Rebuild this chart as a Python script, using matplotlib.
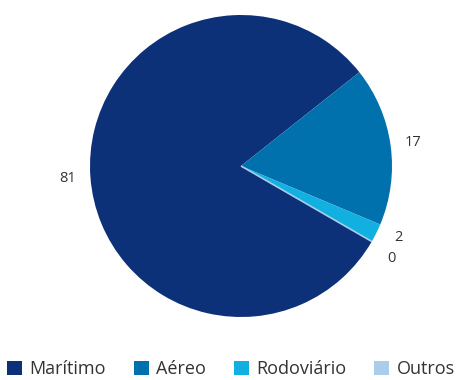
import matplotlib
matplotlib.use("Agg")
import matplotlib.pyplot as plt
from matplotlib.patches import Patch

categorias = ["Marítimo", "Aéreo", "Rodoviário", "Outros"]
valores = [81, 17, 2, 0]
cores = ["#0d3179", "#0071ac", "#12b0e0", "#a9cdeb"]

plt.rcParams['font.family'] = ['Open Sans', 'DejaVu Sans']

fig = plt.figure(figsize=(4.75, 3.8), dpi=100)
ax = fig.add_axes([90 / 475, 63 / 380, 302 / 475, 302 / 380])

wedges, textos = ax.pie(valores, colors=cores, startangle=-30, counterclock=False,
                        labels=[str(v) for v in valores], labeldistance=1.15,
                        wedgeprops=dict(edgecolor=None, linewidth=0),
                        textprops=dict(fontsize=10.5, color="#333333"))
for t in textos:
    t.set_horizontalalignment("center")
    t.set_verticalalignment("center")
# afasta um pouco os rótulos das fatias pequenas para não se sobreporem
x, y = textos[2].get_position()
textos[2].set_position((x + 0.01, y + 0.04))
x, y = textos[3].get_position()
textos[3].set_position((x, y - 0.04))
# fatia zero ainda aparece como um traço fino
wedges[3].set_edgecolor(cores[3])
wedges[3].set_linewidth(1.2)
ax.set_xlim(-1, 1)
ax.set_ylim(-1, 1)
ax.set_aspect("equal")

handles = [Patch(facecolor=c, edgecolor="none") for c in cores]
fig.legend(handles, categorias, loc="lower left", bbox_to_anchor=(0.0, -0.015),
           ncol=4, frameon=False, fontsize=13, handlelength=0.83, handleheight=0.83,
           handletextpad=0.4, columnspacing=1.55, borderaxespad=0.0,
           labelcolor="#333333")

fig.savefig("out.png", dpi=100)
